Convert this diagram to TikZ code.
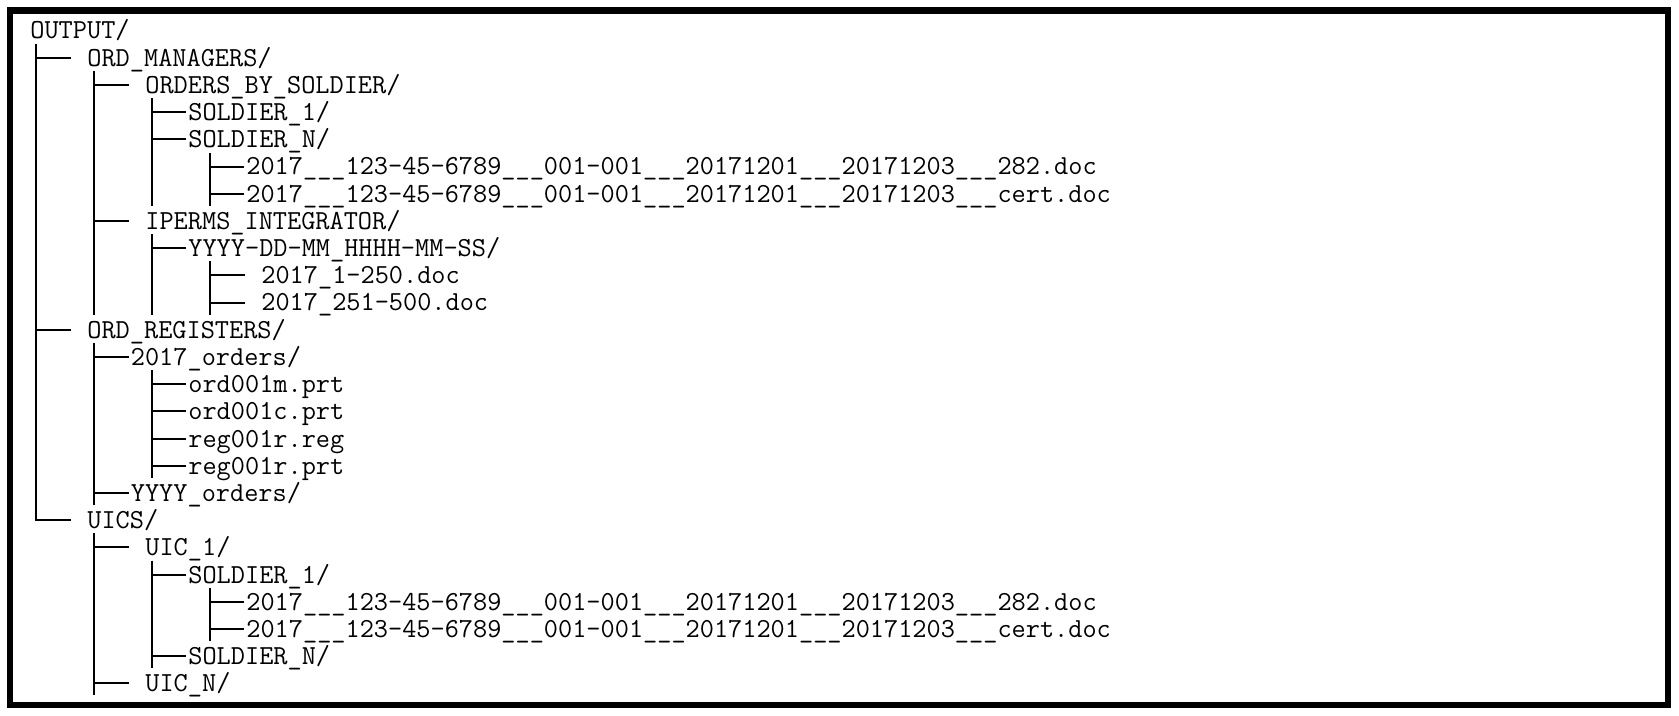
\documentclass[tikz,border=0pt]{standalone}
\usepackage{fontspec}
\usetikzlibrary{calc}
\tikzset{
  entry/.style={anchor=west,inner sep=0pt,text height=8.4pt,text depth=0pt,
    font=\ttfamily\fontsize{13.76}{16}\selectfont},
  branch/.style={line width=1pt},
  frame/.style={line width=3.15pt},
}
\begin{document}
\begin{tikzpicture}[x=0.5pt,y=-0.5pt]
  \useasboundingbox (0,0) rectangle (1679,716);
  \draw[frame] (10.3,10.5) rectangle (1668,705);
  % tree columns
  \coordinate (c1) at (36,0);
  \coordinate (c2) at (94,0);
  \coordinate (c3) at (152,0);
  \coordinate (c4) at (210,0);
  % entries
  \node[entry] (out)  at (30,30.6)   {OUTPUT/};
  \node[entry] (mgr)  at (87,57.8)   {ORD\_MANAGERS/};
  \node[entry] (obs)  at (145,85)    {ORDERS\_BY\_SOLDIER/};
  \node[entry] (s1)   at (188,112.2) {SOLDIER\_1/};
  \node[entry] (sn)   at (188,139.4) {SOLDIER\_N/};
  \node[entry] (f1)   at (246,166.6) {2017\_\_\_123-45-6789\_\_\_001-001\_\_\_20171201\_\_\_20171203\_\_\_282.doc};
  \node[entry] (f2)   at (246,193.8) {2017\_\_\_123-45-6789\_\_\_001-001\_\_\_20171201\_\_\_20171203\_\_\_cert.doc};
  \node[entry] (ipr)  at (145,221)   {IPERMS\_INTEGRATOR/};
  \node[entry] (ydir) at (188,248.2) {YYYY-DD-MM\_HHHH-MM-SS/};
  \node[entry] (d1)   at (261,275.4) {2017\_1-250.doc};
  \node[entry] (d2)   at (261,302.6) {2017\_251-500.doc};
  \node[entry] (reg)  at (87,329.8)  {ORD\_REGISTERS/};
  \node[entry] (o17)  at (130.5,357) {2017\_orders/};
  \node[entry] (p1)   at (188,384.2) {ord001m.prt};
  \node[entry] (p2)   at (188,411.4) {ord001c.prt};
  \node[entry] (p3)   at (188,438.6) {reg001r.reg};
  \node[entry] (p4)   at (188,465.8) {reg001r.prt};
  \node[entry] (oyy)  at (130.5,493)  {YYYY\_orders/};
  \node[entry] (uics) at (87,520.2)  {UICS/};
  \node[entry] (u1)   at (145,547.4) {UIC\_1/};
  \node[entry] (us1)  at (188,574.6) {SOLDIER\_1/};
  \node[entry] (uf1)  at (246,601.8) {2017\_\_\_123-45-6789\_\_\_001-001\_\_\_20171201\_\_\_20171203\_\_\_282.doc};
  \node[entry] (uf2)  at (246,629)   {2017\_\_\_123-45-6789\_\_\_001-001\_\_\_20171201\_\_\_20171203\_\_\_cert.doc};
  \node[entry] (usn)  at (188,656.2) {SOLDIER\_N/};
  \node[entry] (un)   at (145,683.4) {UIC\_N/};
  % vertical runs
  \draw[branch] ($(mgr.west -| c1)+(0,7pt)$) -- (uics.west -| c1) -- ($(uics.west)+(-8pt,0)$);
  \draw[branch] ($(obs.west -| c2)+(0,7pt)$) -- ($(d2.west -| c2)+(0,-6pt)$);
  \draw[branch] ($(o17.west -| c2)+(0,7pt)$) -- ($(oyy.west -| c2)+(0,-6pt)$);
  \draw[branch] ($(u1.west -| c2)+(0,7pt)$) -- ($(un.west -| c2)+(0,-6pt)$);
  \draw[branch] ($(s1.west -| c3)+(0,7pt)$) -- ($(f2.west -| c3)+(0,-6pt)$);
  \draw[branch] ($(ydir.west -| c3)+(0,7pt)$) -- ($(d2.west -| c3)+(0,-6pt)$);
  \draw[branch] ($(p1.west -| c3)+(0,7pt)$) -- ($(p4.west -| c3)+(0,-6pt)$);
  \draw[branch] ($(us1.west -| c3)+(0,7pt)$) -- ($(usn.west -| c3)+(0,-6pt)$);
  \draw[branch] ($(f1.west -| c4)+(0,7pt)$) -- ($(f2.west -| c4)+(0,-6pt)$);
  \draw[branch] ($(d1.west -| c4)+(0,7pt)$) -- ($(d2.west -| c4)+(0,-6pt)$);
  \draw[branch] ($(uf1.west -| c4)+(0,7pt)$) -- ($(uf2.west -| c4)+(0,-6pt)$);
  % branches
  \foreach \n in {mgr,reg}
    \draw[branch] (\n.west -| c1) -- ($(\n.west)+(-8pt,0)$);
  \foreach \n in {obs,ipr,u1,un}
    \draw[branch] (\n.west -| c2) -- ($(\n.west)+(-8pt,0)$);
  \foreach \n in {o17,oyy}
    \draw[branch] (\n.west -| c2) -- ($(\n.west)+(-1pt,0)$);
  \foreach \n in {s1,sn,ydir,p1,p2,p3,p4,us1,usn}
    \draw[branch] (\n.west -| c3) -- ($(\n.west)+(-1pt,0)$);
  \foreach \n in {f1,f2,uf1,uf2}
    \draw[branch] (\n.west -| c4) -- ($(\n.west)+(-1pt,0)$);
  \foreach \n in {d1,d2}
    \draw[branch] (\n.west -| c4) -- ($(\n.west)+(-8pt,0)$);
\end{tikzpicture}
\end{document}
